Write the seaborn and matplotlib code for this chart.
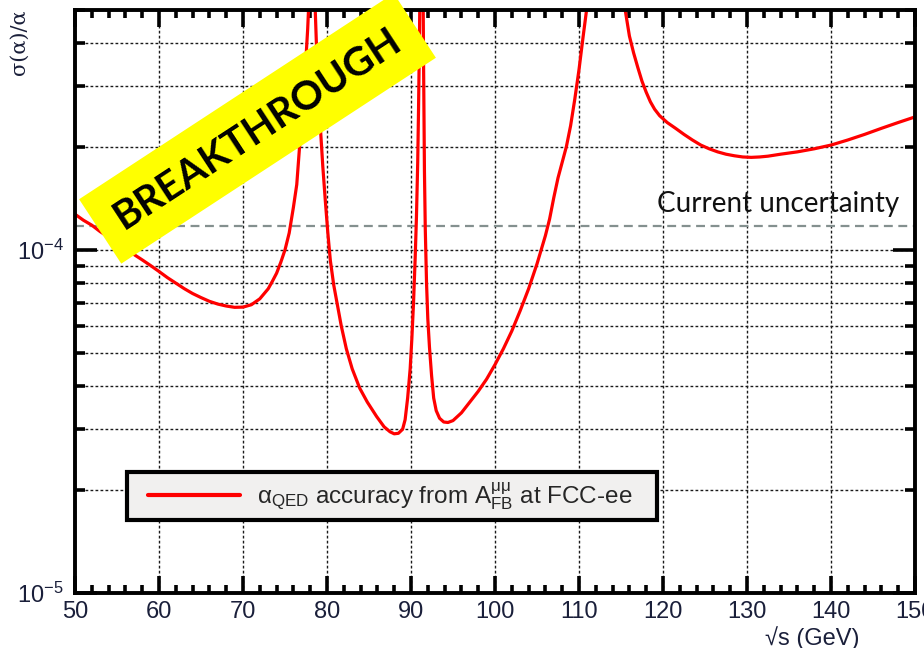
import numpy as np
import pandas as pd
import matplotlib
matplotlib.use("Agg")
import matplotlib.pyplot as plt
import seaborn as sns
from matplotlib.ticker import MultipleLocator, LogLocator, NullFormatter
from matplotlib.patches import Rectangle
from matplotlib.transforms import IdentityTransform
from matplotlib.lines import Line2D
from matplotlib.legend_handler import HandlerLine2D

# ---------------- data ----------------
sqrt_s = [50.0, 51.0, 52.0, 53.0, 54.0, 55.0, 56.0, 57.0, 58.0, 59.0,
          60.0, 61.0, 62.0, 63.0, 64.0, 65.0, 66.0, 67.0, 68.0, 69.0,
          70.0, 71.0, 72.0, 73.0, 73.5, 74.0, 74.5, 75.0, 75.5, 76.0,
          76.4, 76.8, 77.1, 77.4, 77.7, 78.0, 78.2, 78.4, 78.6, 78.8,
          79.0, 79.2, 79.5, 79.8, 80.1, 80.4, 80.8, 81.2, 81.7, 82.3,
          83.0, 83.9, 84.8, 85.9, 86.8, 87.5, 88.0, 88.5, 89.0, 89.3,
          89.6, 89.9, 90.1, 90.3, 90.5, 90.65, 90.8, 90.9, 91.0, 91.1,
          91.25, 91.4, 91.5, 91.6, 91.7, 91.85, 92.0, 92.2, 92.45, 92.7,
          93.0, 93.4, 93.9, 94.4, 95.0, 96.0, 97.0, 98.0, 99.0, 100.0,
          101.0, 102.0, 103.0, 104.0, 105.0, 106.0, 106.5, 107.0, 107.5, 108.0,
          108.5, 109.0, 109.5, 110.0, 110.5, 110.9, 111.3, 113.0, 115.2, 115.5,
          116.0, 116.5, 117.0, 117.5, 118.0, 118.5, 119.0, 119.6, 120.5, 121.5,
          122.5, 123.5, 124.5, 125.5, 126.5, 127.5, 128.5, 129.5, 130.5, 131.5,
          132.5, 134.0, 136.0, 138.0, 140.0, 142.0, 144.0, 146.0, 148.0, 150.0]
sigma_rel = [1.27e-4, 1.22e-4, 1.18e-4, 1.13e-4, 1.09e-4, 1.05e-4, 1.01e-4, 0.97e-4, 0.935e-4, 0.90e-4,
             0.865e-4, 0.83e-4, 0.80e-4, 0.771e-4, 0.746e-4, 0.726e-4, 0.708e-4, 0.695e-4, 0.686e-4, 0.680e-4,
             0.681e-4, 0.692e-4, 0.72e-4, 0.77e-4, 0.81e-4, 0.855e-4, 0.92e-4, 1.0e-4, 1.12e-4, 1.33e-4,
             1.55e-4, 2.1e-4, 2.6e-4, 3.3e-4, 4.4e-4, 6.5e-4, 1.0e-3, 1.0e-3, 5.0e-4, 3.6e-4,
             2.85e-4, 2.3e-4, 1.75e-4, 1.39e-4, 1.12e-4, 0.93e-4, 0.79e-4, 0.70e-4, 0.60e-4, 0.515e-4,
             0.45e-4, 0.395e-4, 0.36e-4, 0.327e-4, 0.305e-4, 0.295e-4, 0.291e-4, 0.292e-4, 0.30e-4, 0.32e-4,
             0.37e-4, 0.45e-4, 0.55e-4, 0.70e-4, 0.95e-4, 1.25e-4, 1.8e-4, 2.6e-4, 4.0e-4, 7.0e-4,
             1.5e-3, 8.0e-4, 3.4e-4, 1.7e-4, 1.15e-4, 0.8e-4, 0.63e-4, 0.52e-4, 0.43e-4, 0.37e-4,
             0.34e-4, 0.323e-4, 0.315e-4, 0.314e-4, 0.318e-4, 0.335e-4, 0.36e-4, 0.387e-4, 0.42e-4, 0.463e-4,
             0.515e-4, 0.58e-4, 0.665e-4, 0.77e-4, 0.91e-4, 1.10e-4, 1.23e-4, 1.42e-4, 1.62e-4, 1.80e-4,
             2.0e-4, 2.3e-4, 2.75e-4, 3.35e-4, 4.2e-4, 5.0e-4, 6.5e-4, 3.0e-3, 6.0e-4, 5.0e-4,
             4.2e-4, 3.75e-4, 3.4e-4, 3.1e-4, 2.88e-4, 2.7e-4, 2.57e-4, 2.46e-4, 2.35e-4, 2.26e-4,
             2.17e-4, 2.09e-4, 2.02e-4, 1.97e-4, 1.93e-4, 1.90e-4, 1.88e-4, 1.865e-4, 1.86e-4, 1.865e-4,
             1.875e-4, 1.90e-4, 1.93e-4, 1.97e-4, 2.02e-4, 2.09e-4, 2.17e-4, 2.26e-4, 2.35e-4, 2.44e-4]
current_uncertainty = 1.17e-4
legend_label = r'$\alpha_{\mathrm{QED}}$ accuracy from $\mathrm{A}^{\mu\mu}_{\mathrm{FB}}$ at FCC-ee'
banner_text = "BREAKTHROUGH"
ref_text = "Current uncertainty"

df = pd.DataFrame({"sqrt_s": sqrt_s, "sigma": sigma_rel})

# ---------------- style ----------------
sns.set_theme(style="white")
plt.rcParams['font.family'] = ['Liberation Sans', 'DejaVu Sans']
plt.rcParams['mathtext.fontset'] = 'custom'
plt.rcParams['mathtext.rm'] = 'Liberation Sans'
plt.rcParams['mathtext.it'] = 'Liberation Sans'
plt.rcParams['mathtext.bf'] = 'Liberation Sans:bold'

W, H = 924, 648
fig = plt.figure(figsize=(W / 100, H / 100), dpi=100)
ax = fig.add_axes([75 / W, 1 - 593 / H, (915 - 75) / W, (593 - 10) / H])

sns.lineplot(data=df, x="sqrt_s", y="sigma", ax=ax, color="#ff0000", lw=2.3,
             estimator=None, sort=False, label=legend_label, zorder=4)

ax.set_yscale('log')
ax.set_xlim(50, 150)
ax.set_ylim(1e-5, 5e-4)

ax.axhline(current_uncertainty, color="#84908f", lw=1.6, ls=(0, (4, 2.5)), zorder=3)

# ticks
ax.xaxis.set_major_locator(MultipleLocator(10))
ax.xaxis.set_minor_locator(MultipleLocator(2))
ax.yaxis.set_major_locator(LogLocator(base=10))
ax.yaxis.set_minor_locator(LogLocator(base=10, subs=np.arange(2, 10)))
ax.yaxis.set_minor_formatter(NullFormatter())
ax.tick_params(which='both', direction='in', top=True, right=True, bottom=True, left=True,
               width=2.6, color='black', labelcolor='#1a1f3a', labelsize=17)
ax.tick_params(axis='x', which='major', length=12, pad=6)
ax.tick_params(axis='x', which='minor', length=6)
ax.tick_params(axis='y', which='major', length=16, pad=8)
ax.tick_params(axis='y', which='minor', length=7.5)

ax.grid(True, axis='x', which='major', color='#1a1a1a', lw=1.0, ls=(0, (2, 1.6)))
ax.grid(True, axis='y', which='both', color='#1a1a1a', lw=1.0, ls=(0, (2, 1.6)))
ax.set_axisbelow(True)
for sp in ax.spines.values():
    sp.set_linewidth(2.8)
    sp.set_color('black')
    sp.set_zorder(5)

ax.set_xlabel("")
ax.set_ylabel("")
fig.text(812 / W, 1 - 638 / H, "\u221as (GeV)", ha='center', va='center', fontsize=17,
         color='#1a1f3a')
fig.text(19 / W, 1 - 42 / H, "\u03c3(\u03b1)/\u03b1", rotation=90, ha='center', va='center',
         fontsize=15, color='#1a1f3a', family=['DejaVu Serif'])

# reference text
ax.text(119.3, 1.36e-4, ref_text, ha='left', va='center', fontsize=20,
        family=['Lato', 'DejaVu Sans'], color='#111111', zorder=6)

# legend
leg = ax.legend(loc='upper left', bbox_to_anchor=(127 / W, 1 - 472 / H, 530 / W, 0),
                bbox_transform=fig.transFigure, mode='expand', borderaxespad=0,
                frameon=True, fancybox=False, handlelength=4.3, handletextpad=0.7,
                borderpad=0.35, prop={'family': 'Liberation Sans', 'size': 17.5},
                handler_map={Line2D: HandlerLine2D(xpad=0.51)})
fr = leg.get_frame()
fr.set_linewidth(3)
fr.set_edgecolor('black')
fr.set_facecolor('#f1f0ef')
fr.set_alpha(1)
leg.set_zorder(7)
for ln in leg.get_lines():
    ln.set_linewidth(3)

# banner
cx, cy = 257.5, H - 128.5
bw, bh, ang = 376, 77, 33.2
rect = Rectangle((cx - bw / 2, cy - bh / 2), bw, bh, angle=ang, rotation_point='center',
                 transform=IdentityTransform(), facecolor='#ffff00', edgecolor='none',
                 zorder=20, clip_on=False)
fig.patches.append(rect)
fig.text(cx / W, cy / H, banner_text, rotation=ang, rotation_mode='anchor',
         ha='center', va='center', fontsize=29, fontweight='bold',
         family=['Lato', 'DejaVu Sans'], color='black', zorder=21)

fig.savefig("out.png", dpi=100)
